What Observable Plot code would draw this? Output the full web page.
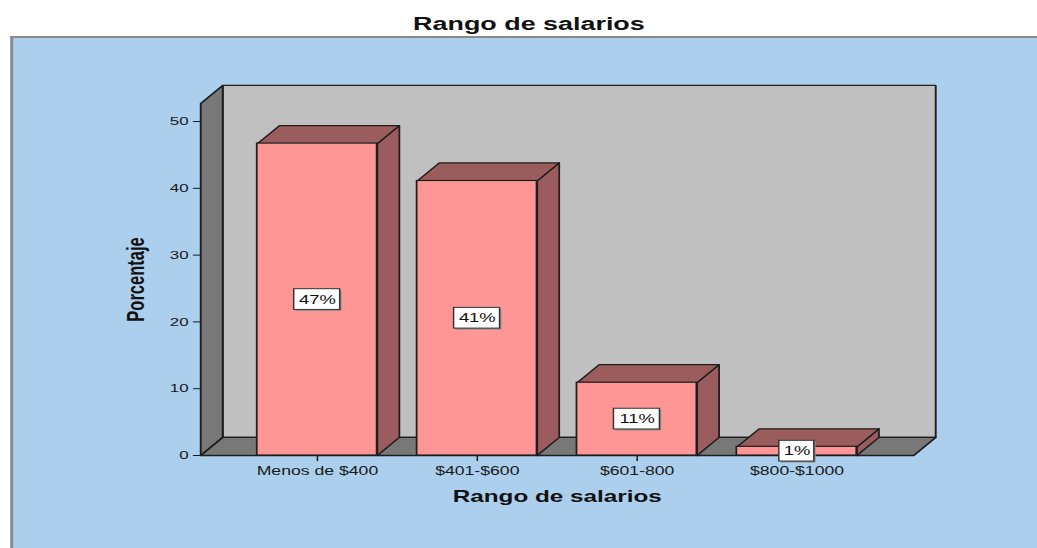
<!DOCTYPE html>
<html>
<head>
<meta charset="utf-8">
<script src="https://cdn.jsdelivr.net/npm/d3@7"></script>
<script src="https://cdn.jsdelivr.net/npm/@observablehq/plot@0.6"></script>
<style>
  html, body { margin: 0; padding: 0; background: #ffffff; overflow: hidden; }
  #wrap { position: relative; width: 705px; height: 548px; transform-origin: 0 0; font-family: "Liberation Sans", Arial, sans-serif; }
  #title { position: absolute; top: 14.8px; left: 359.6px; transform: translateX(-50%); font-size: 18.3px; line-height: 18px; font-weight: bold; color: #111; white-space: nowrap; }
  #panel { position: absolute; left: 6.8px; top: 36px; width: 698.2px; height: 512px; box-sizing: border-box; background: #abcfed; border-top: 2px solid #8a8a8a; border-left: 2px solid #8a8a8a; }
  #chart { position: absolute; left: 0; top: 37px; }
</style>
</head>
<body>
<div id="wrap">
  <div id="title">Rango de salarios</div>
  <div id="panel"></div>
  <div id="chart"></div>
</div>
<script>
// ---- data ----
const categories = ["Menos de $400", "$401-$600", "$601-800", "$800-$1000"];
const percents = [46.7, 41.1, 10.9, 1.3];
const percentLabels = ["47%", "41%", "11%", "1%"];
const yTicks = [0, 10, 20, 30, 40, 50];
const xTitle = "Rango de salarios";
const yTitle = "Porcentaje";

// ---- layout constants ----
const W = 705, H = 511;
const S = 1037 / W;               // horizontal stretch of the whole figure
document.getElementById("wrap").style.transform = `scaleX(${S})`;
const XMIN = -0.73, XMAX = 3.73;  // x extent of the floor (category units)
const YMAX = 52.7;                // top of front wall edge
const HW = 0.375;                 // half bar width (category units)
const DX = 0.1375, DY = 2.7;      // 3D depth offset (x units, y units)

const bars = categories.map((c, i) => ({i, cat: c, v: percents[i], label: percentLabels[i]}));

function poly(id, pts) { return pts.map(([x, y]) => ({x, y, z: id})); }

const leftWall = poly("left", [[XMIN, 0], [XMIN, YMAX], [XMIN + DX, YMAX + DY], [XMIN + DX, DY]]);
const floor = poly("floor", [[XMIN, 0], [XMAX, 0], [XMAX + DX, DY], [XMIN + DX, DY]]);
const backWall = poly("back", [[XMIN + DX, DY], [XMIN + DX, YMAX + DY], [XMAX + DX, YMAX + DY], [XMAX + DX, DY]]);

const sides = bars.flatMap(b => poly("s" + b.i, [[b.i + HW, 0], [b.i + HW, b.v], [b.i + HW + DX, b.v + DY], [b.i + HW + DX, DY]]));
const tops = bars.flatMap(b => poly("t" + b.i, [[b.i - HW, b.v], [b.i + HW, b.v], [b.i + HW + DX, b.v + DY], [b.i - HW + DX, b.v + DY]]));

const boxW = d => (11 * d.label.length + 13) / 160;   // label box width in category units
const BH = 1.55;                                      // half label box height in y units

const faceStroke = "#1e1e1e";

const chart = Plot.plot({
  width: W,
  height: H,
  marginLeft: 200 / S,
  marginRight: W - 913 / S,
  marginTop: 66,
  marginBottom: 93,
  style: {background: "transparent", fontFamily: "\"Liberation Sans\", Arial, sans-serif", color: "#1a1a1a", overflow: "visible"},
  x: {type: "linear", domain: [XMIN, XMAX]},
  y: {domain: [0, YMAX]},
  marks: [
    Plot.line(backWall, {x: "x", y: "y", z: "z", curve: "linear-closed", fill: "#c0c0c0", stroke: faceStroke, strokeWidth: 1.3}),
    Plot.line(leftWall, {x: "x", y: "y", z: "z", curve: "linear-closed", fill: "#787878", stroke: faceStroke, strokeWidth: 1.3}),
    Plot.line(floor, {x: "x", y: "y", z: "z", curve: "linear-closed", fill: "#787878", stroke: faceStroke, strokeWidth: 1.3}),
    Plot.line(sides, {x: "x", y: "y", z: "z", curve: "linear-closed", fill: "#9a5c5c", stroke: faceStroke, strokeWidth: 1.2}),
    Plot.line(tops, {x: "x", y: "y", z: "z", curve: "linear-closed", fill: "#9a5c5c", stroke: faceStroke, strokeWidth: 1.2}),
    Plot.rect(bars, {x1: d => d.i - HW, x2: d => d.i + HW, y1: 0, y2: "v", fill: "#ff9696", stroke: faceStroke, strokeWidth: 1.2}),
    Plot.axisY({ticks: yTicks, tickSize: 4.8, tickPadding: 3.4, fontSize: 11.5, label: null}),
    Plot.axisX({ticks: bars.map(b => b.i), tickFormat: i => categories[i], tickSize: 6, tickPadding: 5, fontSize: 12, label: null}),
    Plot.rect(bars, {x1: d => d.i - boxW(d) / 2, x2: d => d.i + boxW(d) / 2, y1: d => d.v / 2 - BH, y2: d => d.v / 2 + BH, fill: "#8a8a8a", dx: 1.2, dy: 1.5}),
    Plot.rect(bars, {x1: d => d.i - boxW(d) / 2, x2: d => d.i + boxW(d) / 2, y1: d => d.v / 2 - BH, y2: d => d.v / 2 + BH, fill: "#ffffff", stroke: "#333", strokeWidth: 1}),
    Plot.text(bars, {x: "i", y: d => d.v / 2, text: "label", fontSize: 12.5, fill: "#111"}),
    Plot.text([xTitle], {frameAnchor: "bottom", text: d => d, dy: 35, lineAnchor: "top", fontSize: 16.5, fontWeight: "bold", fill: "#111"}),
    Plot.text([yTitle], {frameAnchor: "left", text: d => d, rotate: -90, dx: -43.7, textAnchor: "middle", lineAnchor: "middle", fontSize: 16.5, fontWeight: "bold", fill: "#111"})
  ]
});
document.getElementById("chart").appendChild(chart);
</script>
</body>
</html>
